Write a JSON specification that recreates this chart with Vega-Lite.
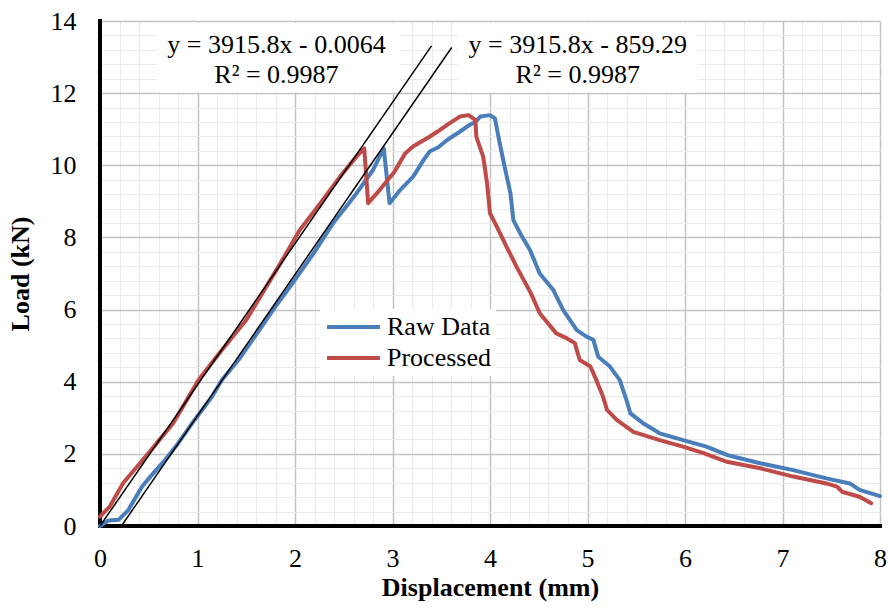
{
  "$schema": "https://vega.github.io/schema/vega-lite/v6.json",
  "width": 780,
  "height": 505,
  "autosize": {"type": "none"},
  "padding": {"left": 100, "top": 21, "right": 8, "bottom": 82},
  "background": "white",
  "config": {
    "font": "Liberation Serif",
    "view": {"stroke": null},
    "axis": {"labelFont": "Liberation Serif", "titleFont": "Liberation Serif", "labelColor": "black", "titleColor": "black"}
  },
  "datasets": {
    "frame": [{"axisline": "x"}],
    "curves": [
      {"series": "Raw Data", "disp": 0, "load": 0},
      {"series": "Raw Data", "disp": 0.085, "load": 0.15},
      {"series": "Raw Data", "disp": 0.19, "load": 0.17},
      {"series": "Raw Data", "disp": 0.29, "load": 0.44},
      {"series": "Raw Data", "disp": 0.43, "load": 1.09},
      {"series": "Raw Data", "disp": 0.53, "load": 1.41},
      {"series": "Raw Data", "disp": 0.667, "load": 1.83},
      {"series": "Raw Data", "disp": 0.8, "load": 2.29},
      {"series": "Raw Data", "disp": 0.97, "load": 2.94},
      {"series": "Raw Data", "disp": 1.15, "load": 3.59},
      {"series": "Raw Data", "disp": 1.25, "load": 4.05},
      {"series": "Raw Data", "disp": 1.42, "load": 4.6},
      {"series": "Raw Data", "disp": 1.6, "load": 5.3},
      {"series": "Raw Data", "disp": 1.79, "load": 6.05},
      {"series": "Raw Data", "disp": 1.95, "load": 6.64},
      {"series": "Raw Data", "disp": 2.19, "load": 7.56},
      {"series": "Raw Data", "disp": 2.39, "load": 8.39},
      {"series": "Raw Data", "disp": 2.63, "load": 9.22},
      {"series": "Raw Data", "disp": 2.8, "load": 9.87},
      {"series": "Raw Data", "disp": 2.91, "load": 10.47},
      {"series": "Raw Data", "disp": 2.97, "load": 8.95},
      {"series": "Raw Data", "disp": 3.08, "load": 9.32},
      {"series": "Raw Data", "disp": 3.21, "load": 9.68},
      {"series": "Raw Data", "disp": 3.32, "load": 10.15},
      {"series": "Raw Data", "disp": 3.38, "load": 10.38},
      {"series": "Raw Data", "disp": 3.47, "load": 10.5},
      {"series": "Raw Data", "disp": 3.56, "load": 10.7},
      {"series": "Raw Data", "disp": 3.69, "load": 10.93},
      {"series": "Raw Data", "disp": 3.79, "load": 11.12},
      {"series": "Raw Data", "disp": 3.85, "load": 11.2},
      {"series": "Raw Data", "disp": 3.9, "load": 11.35},
      {"series": "Raw Data", "disp": 4.0, "load": 11.39},
      {"series": "Raw Data", "disp": 4.05, "load": 11.3},
      {"series": "Raw Data", "disp": 4.1, "load": 10.61},
      {"series": "Raw Data", "disp": 4.15, "load": 9.96},
      {"series": "Raw Data", "disp": 4.21, "load": 9.22},
      {"series": "Raw Data", "disp": 4.24, "load": 8.48},
      {"series": "Raw Data", "disp": 4.31, "load": 8.11},
      {"series": "Raw Data", "disp": 4.41, "load": 7.65},
      {"series": "Raw Data", "disp": 4.51, "load": 7.0},
      {"series": "Raw Data", "disp": 4.65, "load": 6.54},
      {"series": "Raw Data", "disp": 4.75, "load": 5.99},
      {"series": "Raw Data", "disp": 4.89, "load": 5.43},
      {"series": "Raw Data", "disp": 4.99, "load": 5.25},
      {"series": "Raw Data", "disp": 5.06, "load": 5.16},
      {"series": "Raw Data", "disp": 5.11, "load": 4.69},
      {"series": "Raw Data", "disp": 5.23, "load": 4.42},
      {"series": "Raw Data", "disp": 5.33, "load": 4.05},
      {"series": "Raw Data", "disp": 5.4, "load": 3.49},
      {"series": "Raw Data", "disp": 5.44, "load": 3.12},
      {"series": "Raw Data", "disp": 5.57, "load": 2.85},
      {"series": "Raw Data", "disp": 5.74, "load": 2.57},
      {"series": "Raw Data", "disp": 5.98, "load": 2.38},
      {"series": "Raw Data", "disp": 6.22, "load": 2.2},
      {"series": "Raw Data", "disp": 6.43, "load": 1.97},
      {"series": "Raw Data", "disp": 6.77, "load": 1.74},
      {"series": "Raw Data", "disp": 7.11, "load": 1.55},
      {"series": "Raw Data", "disp": 7.45, "load": 1.32},
      {"series": "Raw Data", "disp": 7.69, "load": 1.18},
      {"series": "Raw Data", "disp": 7.79, "load": 1.0},
      {"series": "Raw Data", "disp": 8.0, "load": 0.83},
      {"series": "Processed", "disp": 0, "load": 0.26},
      {"series": "Processed", "disp": 0.1, "load": 0.54},
      {"series": "Processed", "disp": 0.24, "load": 1.2},
      {"series": "Processed", "disp": 0.41, "load": 1.74},
      {"series": "Processed", "disp": 0.58, "load": 2.29},
      {"series": "Processed", "disp": 0.75, "load": 2.85},
      {"series": "Processed", "disp": 0.89, "load": 3.49},
      {"series": "Processed", "disp": 1.01, "load": 4.05},
      {"series": "Processed", "disp": 1.25, "load": 4.88},
      {"series": "Processed", "disp": 1.5, "load": 5.71},
      {"series": "Processed", "disp": 1.85, "load": 7.28},
      {"series": "Processed", "disp": 2.05, "load": 8.21},
      {"series": "Processed", "disp": 2.26, "load": 8.95},
      {"series": "Processed", "disp": 2.46, "load": 9.68},
      {"series": "Processed", "disp": 2.63, "load": 10.24},
      {"series": "Processed", "disp": 2.71, "load": 10.47},
      {"series": "Processed", "disp": 2.75, "load": 8.95},
      {"series": "Processed", "disp": 2.87, "load": 9.32},
      {"series": "Processed", "disp": 3.02, "load": 9.82},
      {"series": "Processed", "disp": 3.13, "load": 10.33},
      {"series": "Processed", "disp": 3.21, "load": 10.52},
      {"series": "Processed", "disp": 3.38, "load": 10.79},
      {"series": "Processed", "disp": 3.47, "load": 10.95},
      {"series": "Processed", "disp": 3.56, "load": 11.12},
      {"series": "Processed", "disp": 3.69, "load": 11.35},
      {"series": "Processed", "disp": 3.78, "load": 11.39},
      {"series": "Processed", "disp": 3.85, "load": 11.26},
      {"series": "Processed", "disp": 3.86, "load": 10.79},
      {"series": "Processed", "disp": 3.93, "load": 10.24},
      {"series": "Processed", "disp": 3.97, "load": 9.5},
      {"series": "Processed", "disp": 4.0, "load": 8.67},
      {"series": "Processed", "disp": 4.07, "load": 8.3},
      {"series": "Processed", "disp": 4.17, "load": 7.74},
      {"series": "Processed", "disp": 4.28, "load": 7.15},
      {"series": "Processed", "disp": 4.42, "load": 6.45},
      {"series": "Processed", "disp": 4.51, "load": 5.9},
      {"series": "Processed", "disp": 4.68, "load": 5.34},
      {"series": "Processed", "disp": 4.79, "load": 5.2},
      {"series": "Processed", "disp": 4.87, "load": 5.07},
      {"series": "Processed", "disp": 4.92, "load": 4.6},
      {"series": "Processed", "disp": 5.03, "load": 4.42},
      {"series": "Processed", "disp": 5.09, "load": 4.05},
      {"series": "Processed", "disp": 5.16, "load": 3.58},
      {"series": "Processed", "disp": 5.2, "load": 3.22},
      {"series": "Processed", "disp": 5.3, "load": 2.94},
      {"series": "Processed", "disp": 5.47, "load": 2.61},
      {"series": "Processed", "disp": 5.74, "load": 2.38},
      {"series": "Processed", "disp": 5.98, "load": 2.2},
      {"series": "Processed", "disp": 6.19, "load": 2.02},
      {"series": "Processed", "disp": 6.43, "load": 1.78},
      {"series": "Processed", "disp": 6.77, "load": 1.6},
      {"series": "Processed", "disp": 7.11, "load": 1.37},
      {"series": "Processed", "disp": 7.45, "load": 1.18},
      {"series": "Processed", "disp": 7.56, "load": 1.09},
      {"series": "Processed", "disp": 7.61, "load": 0.95},
      {"series": "Processed", "disp": 7.79, "load": 0.81},
      {"series": "Processed", "disp": 7.91, "load": 0.63}
    ],
    "fits": [
      {"fit": "raw", "disp": 0, "load": 0},
      {"fit": "raw", "disp": 3.4, "load": 13.31},
      {"fit": "processed", "disp": 0.2194, "load": 0},
      {"fit": "processed", "disp": 3.607, "load": 13.265}
    ],
    "boxes": [
      {"x1": 0.585, "x2": 3.07, "y1": 12.02, "y2": 13.95},
      {"x1": 3.67, "x2": 6.13, "y1": 12.02, "y2": 13.95}
    ],
    "labels": [
      {"disp": 1.81, "load": 13.34, "text": "y = 3915.8x - 0.0064"},
      {"disp": 1.81, "load": 12.5, "text": "R² = 0.9987"},
      {"disp": 4.9, "load": 13.34, "text": "y = 3915.8x - 859.29"},
      {"disp": 4.9, "load": 12.5, "text": "R² = 0.9987"}
    ]
  },
  "resolve": {"axis": {"x": "independent", "y": "independent"}},
  "layer": [
    {
      "data": {"name": "boxes"},
      "mark": {"type": "rect", "fill": "white", "stroke": null},
      "encoding": {
        "x": {"field": "x1", "type": "quantitative", "scale": {"domain": [0, 8], "nice": false, "zero": false},
          "axis": {"orient": "top", "values": [0.2,0.4,0.6,0.8,1,1.2,1.4,1.6,1.8,2,2.2,2.4,2.6,2.8,3,3.2,3.4,3.6,3.8,4,4.2,4.4,4.6,4.8,5,5.2,5.4,5.6,5.8,6,6.2,6.4,6.6,6.8,7,7.2,7.4,7.6,7.8,8],
            "grid": true,
            "gridColor": {"condition": {"test": "abs(datum.value - round(datum.value)) < 0.001", "value": "#c3c3c3"}, "value": "#ebebeb"},
            "gridWidth": {"condition": {"test": "abs(datum.value - round(datum.value)) < 0.001", "value": 1.5}, "value": 1},
            "labels": false, "ticks": false, "domain": false, "title": null, "zindex": 0}},
        "x2": {"field": "x2"},
        "y": {"field": "y1", "type": "quantitative", "scale": {"domain": [0, 14], "nice": false, "zero": false},
          "axis": {"orient": "right", "values": [0.4,0.8,1.2,1.6,2,2.4,2.8,3.2,3.6,4,4.4,4.8,5.2,5.6,6,6.4,6.8,7.2,7.6,8,8.4,8.8,9.2,9.6,10,10.4,10.8,11.2,11.6,12,12.4,12.8,13.2,13.6,14],
            "grid": true,
            "gridColor": {"condition": {"test": "abs(datum.value/2 - round(datum.value/2)) < 0.001", "value": "#c3c3c3"}, "value": "#ebebeb"},
            "gridWidth": {"condition": {"test": "abs(datum.value/2 - round(datum.value/2)) < 0.001", "value": 1.5}, "value": 1},
            "labels": false, "ticks": false, "domain": false, "title": null, "zindex": 0}},
        "y2": {"field": "y2"}
      }
    },
    {
      "data": {"name": "frame"},
      "mark": {"type": "rule", "color": "#000000", "strokeWidth": 4, "strokeCap": "square", "clip": false},
      "encoding": {
        "x": {"datum": 0, "type": "quantitative", "axis": null},
        "y": {"datum": 0, "type": "quantitative", "axis": null},
        "y2": {"datum": 14}
      }
    },
    {
      "data": {"name": "frame"},
      "mark": {"type": "rule", "color": "#000000", "strokeWidth": 4, "strokeCap": "square", "clip": false},
      "encoding": {
        "x": {"datum": 0, "type": "quantitative", "axis": null},
        "x2": {"datum": 8},
        "y": {"datum": 0, "type": "quantitative", "axis": null}
      }
    },
    {
      "data": {"name": "curves"},
      "mark": {"type": "line", "strokeWidth": 4, "strokeJoin": "round", "strokeCap": "round"},
      "encoding": {
        "x": {"field": "disp", "type": "quantitative",
          "axis": {"orient": "bottom", "values": [0,1,2,3,4,5,6,7,8], "grid": false,
            "domain": false, "ticks": false, "labelFont": "Liberation Serif", "labelFontSize": 26, "labelPadding": 19,
            "labelFlush": false, "title": "Displacement (mm)", "titleFont": "Liberation Serif", "titleFontSize": 26, "titleFontWeight": "bold", "titlePadding": 3, "zindex": 0}},
        "y": {"field": "load", "type": "quantitative",
          "axis": {"orient": "left", "values": [0,2,4,6,8,10,12,14], "grid": false,
            "domain": false, "ticks": false, "labelFont": "Liberation Serif", "labelFontSize": 26, "labelPadding": 24,
            "labelFlush": false, "title": "Load (kN)", "titleFont": "Liberation Serif", "titleFontSize": 26, "titleFontWeight": "bold", "titlePadding": 17, "zindex": 0}},
        "color": {"field": "series", "type": "nominal",
          "scale": {"domain": ["Raw Data", "Processed"], "range": ["#4A7EBB", "#BE4B48"]},
          "legend": {"orient": "none", "legendX": 220, "legendY": 288, "title": null, "fillColor": "white", "padding": 5,
            "symbolType": "stroke", "symbolSize": 2800, "symbolStrokeWidth": 4, "clipHeight": 26, "rowPadding": 5,
            "labelFont": "Liberation Serif", "labelFontSize": 26, "labelColor": "black", "labelOffset": 5}},
        "order": {"field": "disp", "type": "quantitative"}
      }
    },
    {
      "data": {"name": "fits"},
      "mark": {"type": "line", "color": "black", "strokeWidth": 1.5},
      "encoding": {
        "x": {"field": "disp", "type": "quantitative", "axis": null},
        "y": {"field": "load", "type": "quantitative", "axis": null},
        "detail": {"field": "fit", "type": "nominal"}
      }
    },
    {
      "data": {"name": "labels"},
      "mark": {"type": "text", "font": "Liberation Serif", "fontSize": 26, "color": "black", "align": "center", "baseline": "middle"},
      "encoding": {
        "x": {"field": "disp", "type": "quantitative", "axis": null},
        "y": {"field": "load", "type": "quantitative", "axis": null},
        "text": {"field": "text"}
      }
    }
  ]
}
